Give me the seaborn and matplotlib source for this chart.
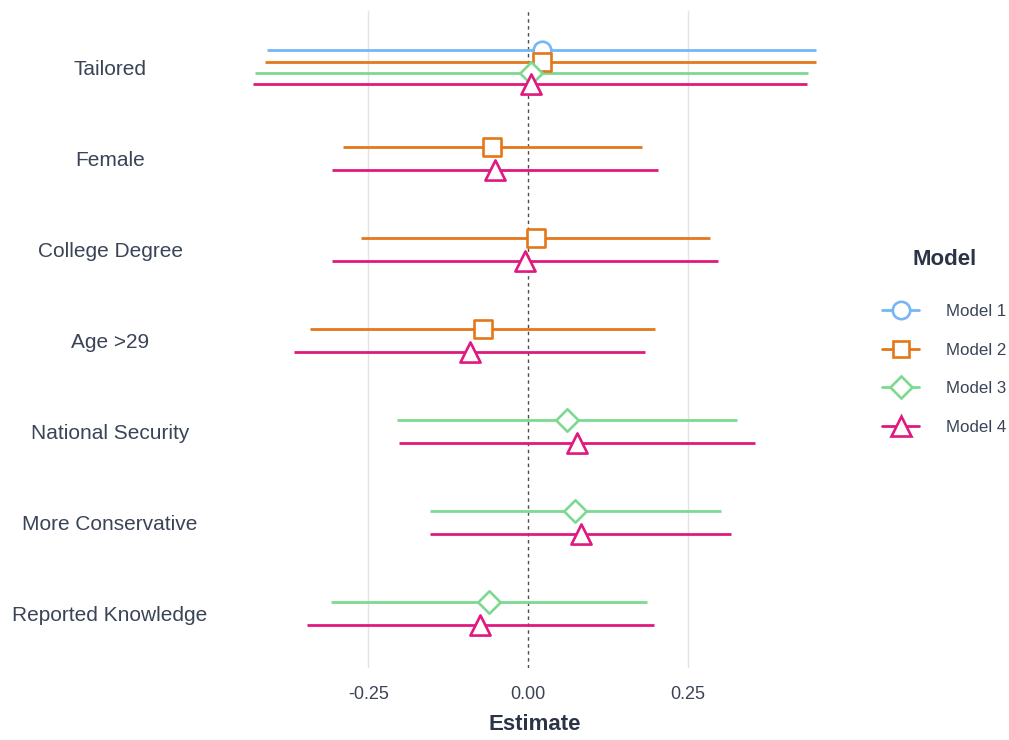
import numpy as np
import pandas as pd
import matplotlib
matplotlib.use("Agg")
import matplotlib.pyplot as plt
from matplotlib.lines import Line2D
import seaborn as sns

# Coefficient estimates with 95% confidence intervals, by term and model
terms = ["Tailored", "Female", "College Degree", "Age >29",
         "National Security", "More Conservative", "Reported Knowledge"]
models = ["Model 1", "Model 2", "Model 3", "Model 4"]

model1_est = [0.022, None, None, None, None, None, None]
model1_lo = [-0.408, None, None, None, None, None, None]
model1_hi = [0.450, None, None, None, None, None, None]

model2_est = [0.022, -0.056, 0.0125, -0.070, None, None, None]
model2_lo = [-0.411, -0.289, -0.261, -0.341, None, None, None]
model2_hi = [0.450, 0.178, 0.284, 0.198, None, None, None]

model3_est = [0.005, None, None, None, 0.061, 0.073, -0.061]
model3_lo = [-0.427, None, None, None, -0.205, -0.153, -0.308]
model3_hi = [0.437, None, None, None, 0.327, 0.302, 0.186]

model4_est = [0.005, -0.052, -0.005, -0.091, 0.077, 0.083, -0.075]
model4_lo = [-0.430, -0.306, -0.306, -0.366, -0.202, -0.153, -0.345]
model4_hi = [0.436, 0.203, 0.297, 0.183, 0.355, 0.317, 0.197]

x_ticks = [-0.25, 0.0, 0.25]
x_tick_labels = ["-0.25", "0.00", "0.25"]

colors = {"Model 1": "#77b6f5", "Model 2": "#e47819",
          "Model 3": "#7dd991", "Model 4": "#e0197f"}
markers = {"Model 1": "o", "Model 2": "s", "Model 3": "D", "Model 4": "^"}
marker_sizes = {"Model 1": 160, "Model 2": 150, "Model 3": 130, "Model 4": 210}
legend_ms = {"Model 1": 12.5, "Model 2": 12, "Model 3": 11.5, "Model 4": 15}

series = {
    "Model 1": (model1_est, model1_lo, model1_hi),
    "Model 2": (model2_est, model2_lo, model2_hi),
    "Model 3": (model3_est, model3_lo, model3_hi),
    "Model 4": (model4_est, model4_lo, model4_hi),
}

rows = []
for m in models:
    est, lo, hi = series[m]
    for t, e, l, h in zip(terms, est, lo, hi):
        if e is not None:
            rows.append({"term": t, "model": m, "estimate": e, "lo": l, "hi": h})
df = pd.DataFrame(rows)

# Dodge models within each term (total dodge width 0.5 of a category)
dodge_width = 0.5
df["ypos"] = 0.0
for t, grp in df.groupby("term", sort=False):
    n = len(grp)
    base = terms.index(t)
    offsets = (np.arange(n) - (n - 1) / 2) * dodge_width / n
    df.loc[grp.index, "ypos"] = base + offsets

sns.set_theme(style="white")
plt.rcParams["font.family"] = ["Liberation Sans", "DejaVu Sans"]
text_color = "#3a4456"
title_color = "#2b3447"

fig = plt.figure(figsize=(10.09, 7.40), dpi=100)
ax = fig.add_axes([225 / 1009, 1 - 668 / 740, (844 - 225) / 1009, (668 - 11) / 740])

# Vertical grid lines and reference line at zero
for xv in x_ticks:
    if xv != 0:
        ax.axvline(xv, color="#e3e3e3", lw=1.0, zorder=0)
ax.axvline(0, color="#4d4d4d", lw=1.0, ls=(0, (2.5, 2.5)), zorder=1)

for m in models:
    sub = df[df["model"] == m]
    ax.hlines(sub["ypos"], sub["lo"], sub["hi"], color=colors[m], lw=2.0, zorder=2)
    sns.scatterplot(data=sub, x="estimate", y="ypos", ax=ax, marker=markers[m],
                    s=marker_sizes[m], color="white", edgecolor=colors[m],
                    linewidth=1.9, zorder=3, legend=False)

ax.set_xlim(-0.474, 0.494)
ax.set_ylim(len(terms) - 1 + 0.6, -0.62)
ax.set_xticks(x_ticks)
ax.set_xticklabels(x_tick_labels)
ax.set_yticks(range(len(terms)))
ax.set_yticklabels(terms)
ax.tick_params(axis="x", length=0, pad=13, labelsize=13, labelcolor=text_color)
ax.tick_params(axis="y", length=0, pad=115 * 72 / 100, labelsize=15, labelcolor=text_color)
for lab in ax.get_yticklabels():
    lab.set_ha("center")
ax.set_xlabel("Estimate", fontsize=16, fontweight="bold", color=title_color, labelpad=8)
ax.set_ylabel("")
for s in ax.spines.values():
    s.set_visible(False)

handles = [Line2D([0], [0], color=colors[m], lw=2.0, marker=markers[m],
                  markersize=legend_ms[m], markerfacecolor="white",
                  markeredgecolor=colors[m], markeredgewidth=1.9)
           for m in models]
leg = fig.legend(handles, models, loc="upper left",
                 bbox_to_anchor=(874 / 1009, 1 - 241 / 740),
                 frameon=False, fontsize=12.2, handlelength=2.15,
                 handletextpad=1.6, labelspacing=1.4, borderpad=0,
                 title="Model")
leg.get_title().set_fontsize(16)
leg.get_title().set_fontweight("bold")
leg.get_title().set_color(title_color)
leg._legend_box.sep = 24
for txt in leg.get_texts():
    txt.set_color(text_color)

fig.savefig("out.png", dpi=100, facecolor="white")
